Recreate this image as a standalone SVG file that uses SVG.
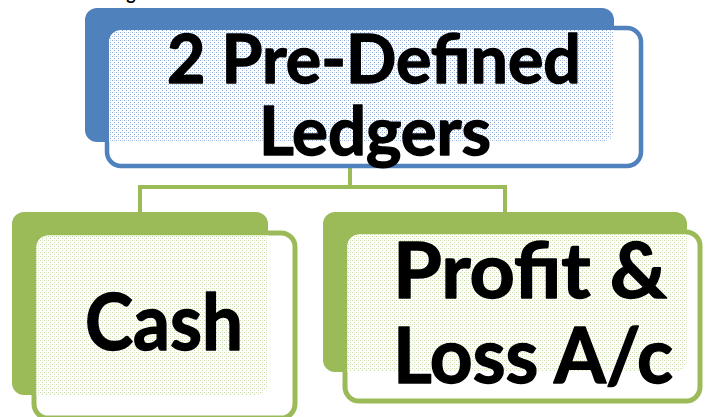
<svg xmlns="http://www.w3.org/2000/svg" width="705" height="417" viewBox="0 0 705 417">
  <style>
    .label { font-family: Lato, "Open Sans", "Liberation Sans", sans-serif; font-weight: bold; fill: #000; stroke: #000; stroke-width: 1.4; stroke-linejoin: round; text-anchor: middle; }
    .back-blue { fill: #4f81bd; }
    .back-green { fill: #9bbb59; }
    .front-blue { fill: #fff; stroke: #4f81bd; stroke-width: 4.5; }
    .front-green { fill: #fff; stroke: #9bbb59; stroke-width: 5; }
    .conn { fill: none; stroke: #9bbb59; stroke-width: 4; }
  </style>
  <defs>
    <!-- fine dither used where a card overlaps its coloured backing tab -->
    <pattern id="dotsBlue" patternUnits="userSpaceOnUse" width="4" height="4">
      <rect width="4" height="4" fill="#fff"/>
      <rect x="0" y="0" width="1" height="1" fill="#8eaad6"/>
      <rect x="2" y="2" width="1" height="1" fill="#8eaad6"/>
      <rect x="2" y="0" width="1" height="1" fill="#c9d7ec"/>
    </pattern>
    <pattern id="dotsGreen" patternUnits="userSpaceOnUse" width="4" height="4">
      <rect width="4" height="4" fill="#fff"/>
      <rect x="0" y="0" width="1" height="1" fill="#c9dba6"/>
      <rect x="2" y="2" width="1" height="1" fill="#c9dba6"/>
      <rect x="2" y="0" width="1" height="1" fill="#e4edd2"/>
    </pattern>
    <clipPath id="clipTop"><rect x="109" y="30" width="530" height="134" rx="12"/></clipPath>
    <clipPath id="clipCash"><rect x="36.5" y="235.5" width="256" height="180" rx="12"/></clipPath>
    <clipPath id="clipPL"><rect x="347.5" y="234.5" width="350" height="164" rx="12"/></clipPath>
  </defs>

  <!-- heading fragment at the top edge, only its descender lies on the canvas -->
  <text x="131" y="0" style="font-family: Lato, 'Liberation Sans', sans-serif; font-weight: bold; font-size: 18px; text-anchor: middle;">g</text>

  <g id="connectors">
    <path class="conn" d="M350 166 V187 M138 187 H507 M140 185 V212 M505 185 V212"/>
  </g>

  <g id="node-ledgers">
    <rect class="back-blue" x="85" y="8" width="529" height="134" rx="12"/>
    <rect class="front-blue" x="107" y="28" width="534" height="138" rx="14"/>
    <rect x="85" y="8" width="529" height="134" rx="12" fill="url(#dotsBlue)" clip-path="url(#clipTop)"/>
    <text class="label" x="374" y="83" font-size="66" textLength="414" lengthAdjust="spacingAndGlyphs">2 Pre-Defined</text>
    <text class="label" x="375" y="155" font-size="66" textLength="232" lengthAdjust="spacingAndGlyphs">Ledgers</text>
  </g>

  <g id="node-cash">
    <rect class="back-green" x="12" y="212" width="256" height="183" rx="12"/>
    <rect class="front-green" x="34" y="233" width="261" height="185" rx="14"/>
    <rect x="12" y="212" width="256" height="183" rx="12" fill="url(#dotsGreen)" clip-path="url(#clipCash)"/>
    <text class="label" x="164" y="350" font-size="78" textLength="158" lengthAdjust="spacingAndGlyphs">Cash</text>
  </g>

  <g id="node-profit-loss">
    <rect class="back-green" x="323" y="212" width="364" height="160" rx="12"/>
    <rect class="front-green" x="345" y="232" width="355" height="169" rx="14"/>
    <rect x="323" y="212" width="364" height="160" rx="12" fill="url(#dotsGreen)" clip-path="url(#clipPL)"/>
    <text class="label" x="530" y="298" font-size="76" textLength="274" lengthAdjust="spacingAndGlyphs">Profit &amp;</text>
    <text class="label" x="533" y="383" font-size="76" textLength="280" lengthAdjust="spacingAndGlyphs">Loss A/c</text>
  </g>
</svg>
